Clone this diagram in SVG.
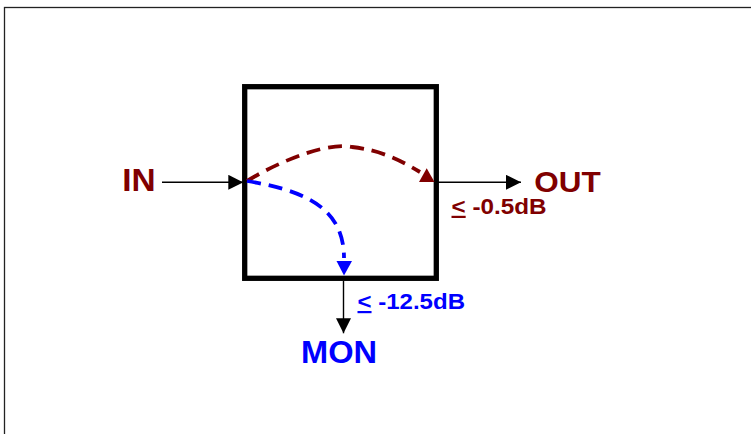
<svg xmlns="http://www.w3.org/2000/svg" width="751" height="434" viewBox="0 0 751 434">
<style>
.lbl{font-family:"Liberation Sans",Arial,sans-serif;font-weight:bold}
.red{fill:#800000}
.blue{fill:#0000ff}
.wire{stroke:#000;stroke-width:1.4;fill:none}
.dash{fill:none;stroke-width:3.8;stroke-dasharray:14 8}
</style>
<defs>
<marker id="ah" markerUnits="userSpaceOnUse" markerWidth="15" markerHeight="15" refX="15" refY="7.5" orient="auto" viewBox="0 0 15 15">
<path d="M0,0 L15,7.5 L0,15 z" fill="#000"/>
</marker>
</defs>
<rect x="4.5" y="7.5" width="800" height="500" fill="#fff" stroke="#222" stroke-width="1.3"/>
<g id="box">
<rect x="244.7" y="86.7" width="191.6" height="191.6" fill="#fff" stroke="#000" stroke-width="5.3"/>
</g>
<g id="connectors">
<line class="wire" x1="162" y1="182.3" x2="243.3" y2="182.3" marker-end="url(#ah)"/>
<line class="wire" x1="436" y1="182.3" x2="521" y2="182.3" marker-end="url(#ah)"/>
<line class="wire" x1="343.5" y1="281" x2="343.5" y2="333.3" marker-end="url(#ah)"/>
<path class="dash" stroke="#800000" d="M247,181 C285,158 330,142 352,147 C380,150 400,160 420,172"/>
<polygon fill="#800000" points="426.7,168.3 419,182 434.5,182"/>
<path class="dash" stroke="#0000ff" d="M247,181 C300,190 344,205 344,258"/>
<polygon fill="#0000ff" points="336.5,261 352,261 344,275.5"/>
</g>
<g id="in">
<text class="lbl red" x="122.3" y="190.5" font-size="30.5" textLength="33.4" lengthAdjust="spacingAndGlyphs">IN</text>
</g>
<g id="out">
<text class="lbl red" x="534.3" y="191.5" font-size="30" textLength="66.4" lengthAdjust="spacingAndGlyphs">OUT</text>
<text class="lbl red" x="451.5" y="213.8" font-size="22" textLength="95" lengthAdjust="spacingAndGlyphs"><tspan text-decoration="underline">&lt;</tspan> -0.5dB</text>
</g>
<g id="mon">
<text class="lbl blue" x="301" y="363.3" font-size="31" textLength="76" lengthAdjust="spacingAndGlyphs">MON</text>
<text class="lbl blue" x="357.5" y="309" font-size="22" textLength="107.5" lengthAdjust="spacingAndGlyphs"><tspan text-decoration="underline">&lt;</tspan> -12.5dB</text>
</g>
</svg>
